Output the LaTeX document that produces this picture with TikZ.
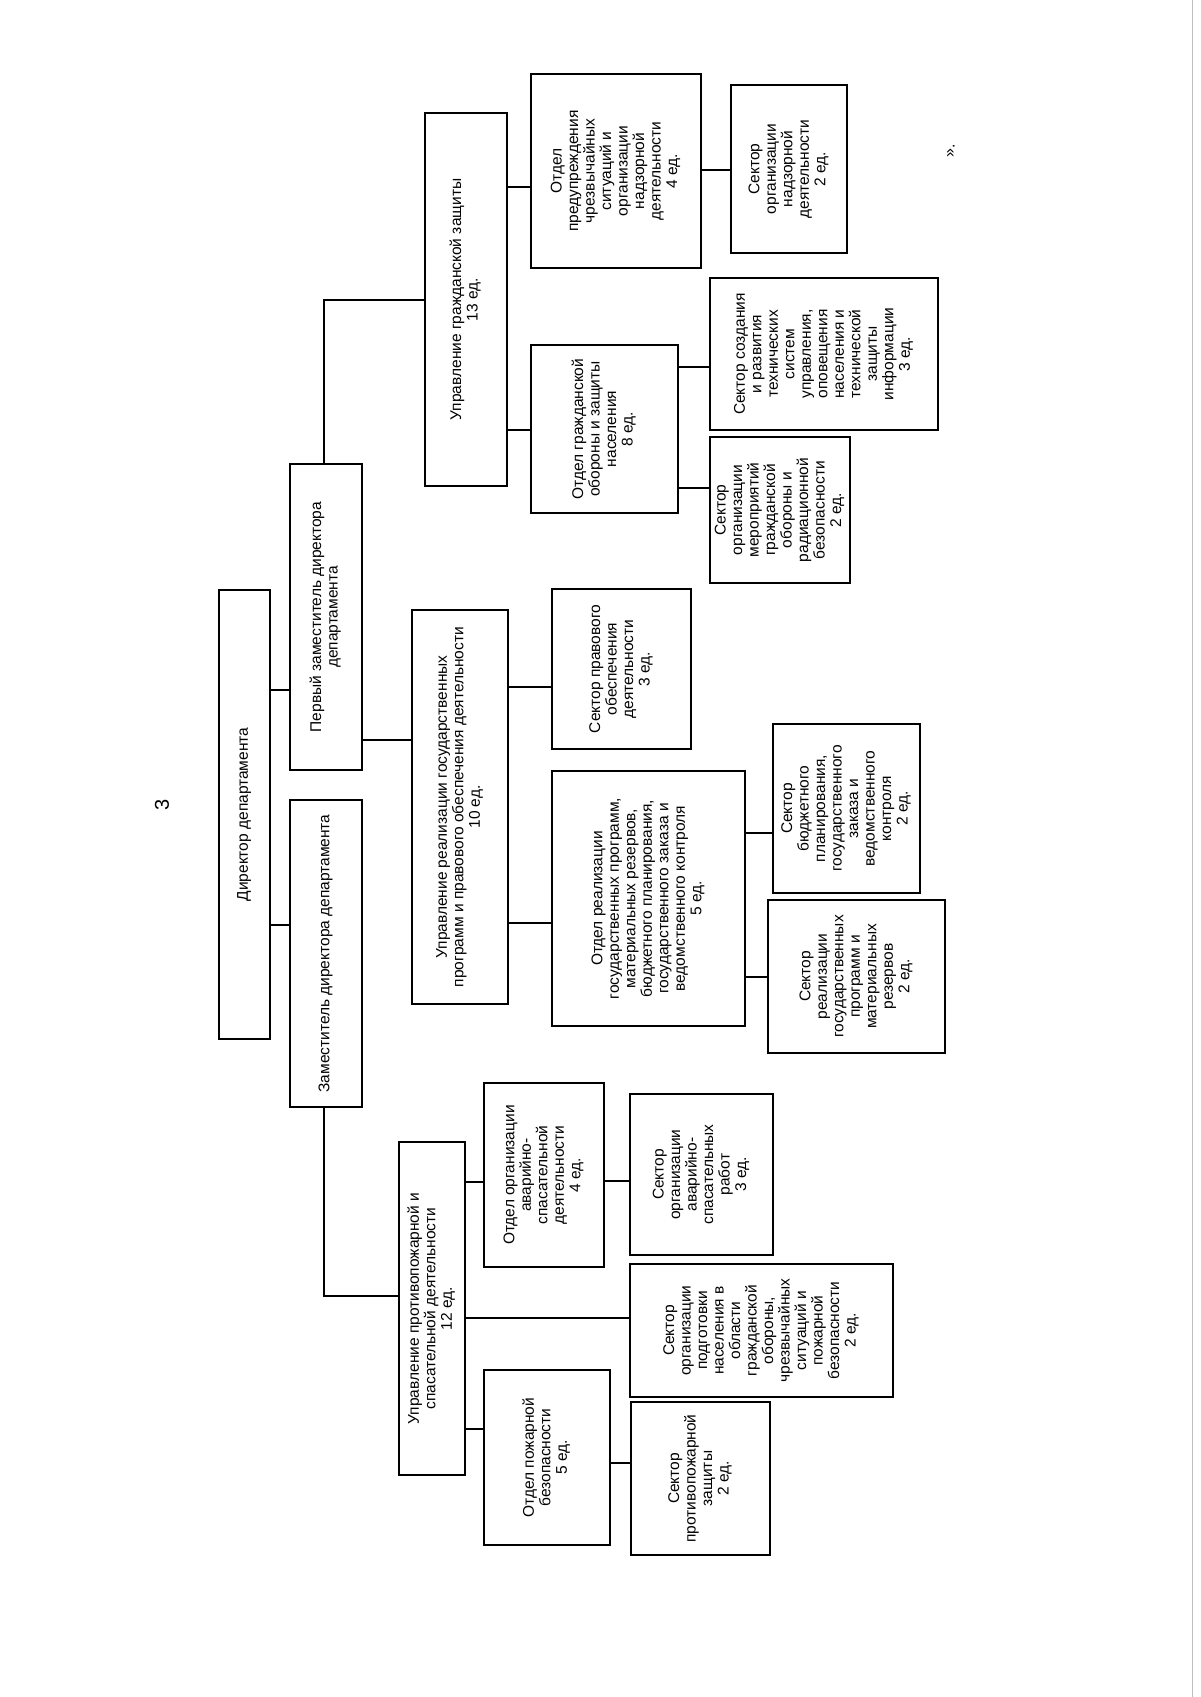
\documentclass[tikz,border=0pt]{standalone}
\usepackage{fontspec}
\usepackage{graphicx}
\usepackage{tikz}
\setmainfont{Liberation Sans}

\newcommand{\vtext}[1]{\rotatebox{90}{\begin{tabular}{@{}c@{}}#1\end{tabular}}}

\begin{document}
\begin{tikzpicture}[x=1pt,y=-1pt,
    orgbox/.style={draw, line width=1.1pt, inner sep=0pt, fill=white,
        font=\fontsize{15.5}{16.5}\selectfont},
    link/.style={line width=1.1pt}]
        \useasboundingbox[fill=white] (0,0) rectangle (1200,1697);
        % top of the chart
        \node[orgbox, minimum width=51pt, minimum height=449pt] (dir) at (244.5,814.5) {\vtext{Директор департамента}};
        \node[orgbox, minimum width=72pt, minimum height=306pt] (dep1) at (326,617) {\vtext{Первый заместитель директора\\департамента}};
        \node[orgbox, minimum width=72pt, minimum height=307pt] (dep2) at (326,953.5) {\vtext{Заместитель директора департамента}};
        % управления
        \node[orgbox, minimum width=82pt, minimum height=373pt] (ugz) at (466,299.5) {\vtext{Управление гражданской защиты\\13 ед.}};
        \node[orgbox, minimum width=96pt, minimum height=394pt] (ur) at (460,807) {\vtext{Управление реализации государственных\\программ и правового обеспечения деятельности\\10 ед.}};
        \node[orgbox, minimum width=66pt, minimum height=333pt] (upp) at (432,1308.5) {\vtext{Управление противопожарной и\\спасательной деятельности\\12 ед.}};
        % отделы и секторы
        \node[orgbox, minimum width=170pt, minimum height=194pt] (op) at (616,171) {\vtext{Отдел\\предупреждения\\чрезвычайных\\ситуаций и\\организации\\надзорной\\деятельности\\4 ед.}};
        \node[orgbox, minimum width=116pt, minimum height=168pt] (sn) at (789,169) {\vtext{Сектор\\организации\\надзорной\\деятельности\\2 ед.}};
        \node[orgbox, minimum width=147pt, minimum height=168pt] (ogo) at (604.5,429) {\vtext{Отдел гражданской\\обороны и защиты\\населения\\8 ед.}};
        \node[orgbox, minimum width=228pt, minimum height=152pt] (ss) at (824,354) {\vtext{Сектор создания\\и развития\\технических\\систем\\управления,\\оповещения\\населения и\\технической\\защиты\\информации\\3 ед.}};
        \node[orgbox, minimum width=140pt, minimum height=146pt] (sm) at (780,510) {\vtext{Сектор\\организации\\мероприятий\\гражданской\\обороны и\\радиационной\\безопасности\\2 ед.}};
        \node[orgbox, minimum width=139pt, minimum height=160pt] (sp) at (621.5,669) {\vtext{Сектор правового\\обеспечения\\деятельности\\3 ед.}};
        \node[orgbox, minimum width=193pt, minimum height=255pt] (or) at (648.5,898.5) {\vtext{Отдел реализации\\государственных программ,\\материальных резервов,\\бюджетного планирования,\\государственного заказа и\\ведомственного контроля\\5 ед.}};
        \node[orgbox, minimum width=147pt, minimum height=169pt] (sb) at (846.5,808.5) {\vtext{Сектор\\бюджетного\\планирования,\\государственного\\заказа и\\ведомственного\\контроля\\2 ед.}};
        \node[orgbox, minimum width=177pt, minimum height=153pt] (sr) at (856.5,976.5) {\vtext{Сектор\\реализации\\государственных\\программ и\\материальных\\резервов\\2 ед.}};
        \node[orgbox, minimum width=120pt, minimum height=184pt] (oa) at (544,1175) {\vtext{Отдел организации\\аварийно-\\спасательной\\деятельности\\4 ед.}};
        \node[orgbox, minimum width=143pt, minimum height=161pt] (sa) at (701.5,1174.5) {\vtext{Сектор\\организации\\аварийно-\\спасательных\\работ\\3 ед.}};
        \node[orgbox, minimum width=263pt, minimum height=133pt] (spn) at (761.5,1330.5) {\vtext{Сектор\\организации\\подготовки\\населения в\\области\\гражданской\\обороны,\\чрезвычайных\\ситуаций и\\пожарной\\безопасности\\2 ед.}};
        \node[orgbox, minimum width=126pt, minimum height=175pt] (opb) at (547,1457.5) {\vtext{Отдел пожарной\\безопасности\\5 ед.}};
        \node[orgbox, minimum width=139pt, minimum height=153pt] (spz) at (700.5,1478.5) {\vtext{Сектор\\противопожарной\\защиты\\2 ед.}};
        % connectors
        \coordinate (b1) at (324,300);
        \coordinate (b2) at (324,1296);
        \draw[link] (dir.east |- 0,690) -- (dep1.west |- 0,690);
        \draw[link] (dir.east |- 0,925) -- (dep2.west |- 0,925);
        \draw[link] (b1 |- dep1.north) -- (b1) -- (b1 -| ugz.west);
        \draw[link] (dep1.east |- 0,740) -- (ur.west |- 0,740);
        \draw[link] (b2 |- dep2.south) -- (b2) -- (b2 -| upp.west);
        \draw[link] (ugz.east |- 0,187) -- (op.west |- 0,187);
        \draw[link] (ugz.east |- 0,430) -- (ogo.west |- 0,430);
        \draw[link] (op.east |- 0,170) -- (sn.west |- 0,170);
        \draw[link] (ogo.east |- 0,367) -- (ss.west |- 0,367);
        \draw[link] (ogo.east |- 0,488) -- (sm.west |- 0,488);
        \draw[link] (ur.east |- 0,687) -- (sp.west |- 0,687);
        \draw[link] (ur.east |- 0,923) -- (or.west |- 0,923);
        \draw[link] (or.east |- 0,833) -- (sb.west |- 0,833);
        \draw[link] (or.east |- 0,977) -- (sr.west |- 0,977);
        \draw[link] (upp.east |- 0,1182) -- (oa.west |- 0,1182);
        \draw[link] (upp.east |- 0,1318) -- (spn.west |- 0,1318);
        \draw[link] (upp.east |- 0,1429) -- (opb.west |- 0,1429);
        \draw[link] (oa.east |- 0,1181) -- (sa.west |- 0,1181);
        \draw[link] (opb.east |- 0,1463) -- (spz.west |- 0,1463);
        % page number, closing quote, scan edge
        \node[rotate=90, font=\fontsize{20}{22}\selectfont] (pagenum) at (162,805) {3};
        \node[rotate=90, font=\fontsize{16}{18}\selectfont] (quote) at (951,151) {».};
        \draw[black!25, line width=1pt] (1192,0) -- (1192,1697);
\end{tikzpicture}
\end{document}
